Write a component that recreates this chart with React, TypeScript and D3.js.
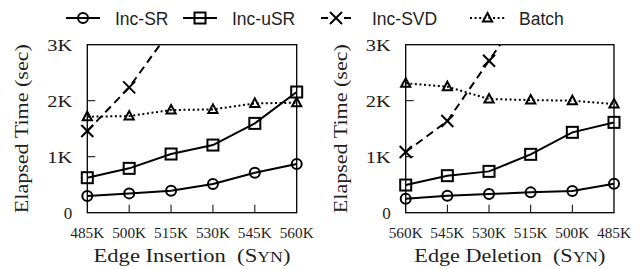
import React from 'react';
import * as d3 from 'd3';

// x categories
const insLabels = ['485K', '500K', '515K', '530K', '545K', '560K'];
const delLabels = ['560K', '545K', '530K', '515K', '500K', '485K'];

// elapsed time (sec), Edge Insertion
const insSR = [300, 345, 393, 512, 714, 869];
const insUSR = [625, 792, 1048, 1208, 1595, 2155];
const insSVD = [1458, 2238, 3270];
const insBatch = [1714, 1726, 1833, 1845, 1952, 1964];

// elapsed time (sec), Edge Deletion
const delSR = [250, 304, 333, 363, 387, 518];
const delUSR = [494, 661, 738, 1042, 1435, 1613];
const delSVD = [1083, 1637, 2714, 3800];
const delBatch = [2310, 2250, 2030, 2012, 2000, 1940];

const yTicks = [0, 1000, 2000, 3000];
const yTickLabels = ['0', '1K', '2K', '3K'];

const seriesNames = ['Inc-SR', 'Inc-uSR', 'Inc-SVD', 'Batch'];

const SERIF = '"Liberation Serif", "DejaVu Serif", serif';
const SANS = '"Liberation Sans", Arial, sans-serif';
const INK = '#1e1e1e';

type Shape = 'circle' | 'square' | 'cross' | 'triangle';
const shapes: Shape[] = ['circle', 'square', 'cross', 'triangle'];
const dashes = ['', '', '8 5', '2 2.6'];

const Marker = ({ shape, x, y }: { shape: Shape; x: number; y: number }) => {
  const common = { fill: 'none', stroke: '#000', strokeWidth: 2 };
  if (shape === 'circle') return <circle cx={x} cy={y} r={5} {...common} />;
  if (shape === 'square') return <rect x={x - 5.5} y={y - 5.5} width={11} height={11} {...common} />;
  if (shape === 'cross') {
    const s = 6;
    return (
      <g {...common}>
        <line x1={x - s} y1={y - s} x2={x + s} y2={y + s} />
        <line x1={x - s} y1={y + s} x2={x + s} y2={y - s} />
      </g>
    );
  }
  return <path d={`M${x},${y - 5}L${x + 4.6},${y + 3.5}L${x - 4.6},${y + 3.5}Z`} {...common} />;
};

const Panel = ({ id, left, right, labels, series, title, titleW }: {
  id: string; left: number; right: number; labels: string[]; series: number[][]; title: string; titleW: number;
}) => {
  const top = 44.7, bottom = 212.7;
  const x = d3.scalePoint<string>().domain(labels).range([left, right]).padding(0);
  const y = d3.scaleLinear().domain([0, 3000]).range([bottom, top]);
  const line = d3.line<number>().x((_, i) => x(labels[i])!).y(d => y(d));

  return (
    <g>
      <defs>
        <clipPath id={id}>
          <rect x={left} y={top} width={right - left} height={bottom - top} />
        </clipPath>
      </defs>
      {/* inward ticks */}
      {yTicks.slice(1, -1).map(t => (
        <line key={t} x1={left} x2={left + 8} y1={y(t)} y2={y(t)} stroke="#000" strokeWidth={1} />
      ))}
      {labels.slice(1, -1).map(l => (
        <line key={l} x1={x(l)} x2={x(l)} y1={bottom} y2={bottom - 8} stroke="#000" strokeWidth={1} />
      ))}
      <rect x={left} y={top} width={right - left} height={bottom - top} fill="none" stroke="#000" strokeWidth={1.3} />

      {yTicks.map((t, i) => (
        <text key={t} x={left - 15} y={y(t)} dy="0.35em" textAnchor="end" fontFamily={SERIF} fontSize={17}
          fill={INK} textLength={i === 0 ? undefined : 25} lengthAdjust="spacingAndGlyphs">{yTickLabels[i]}</text>
      ))}
      {labels.map(l => (
        <text key={l} x={x(l)} y={237.5} textAnchor="middle" fontFamily={SERIF} fontSize={14}
          fill={INK} textLength={34} lengthAdjust="spacingAndGlyphs">{l}</text>
      ))}

      <text transform={`translate(${left - 59},${(top + bottom) / 2}) rotate(-90)`} textAnchor="middle"
        fontFamily={SERIF} fontSize={19} fill={INK} textLength={169} lengthAdjust="spacingAndGlyphs">Elapsed Time (sec)</text>
      <text x={(left + right) / 2} y={262} textAnchor="middle" fontFamily={SERIF} fontSize={19} fill={INK}
        textLength={titleW} lengthAdjust="spacingAndGlyphs">
        {title}{'\u00a0\u00a0'}(S<tspan fontSize={15}>YN</tspan>)
      </text>

      <g clipPath={`url(#${id})`}>
        {series.map((s, k) => (
          <path key={k} d={line(s)!} fill="none" stroke="#000" strokeWidth={2}
            strokeDasharray={dashes[k] || undefined} />
        ))}
      </g>
      {series.map((s, k) => s.map((v, i) => v <= 3000 ? (
        <Marker key={`${k}-${i}`} shape={shapes[k]} x={x(labels[i])!} y={y(v)} />
      ) : null))}
    </g>
  );
};

const legendX = [66, 183, 321, 470];
const legendLen = [34, 34, 30, 35];
const legendTextX = [115, 232, 372, 519];
const legendDash = ['', '', '7 16 7', '2 2.6'];

export default function App() {
  return (
    <div style={{ position: 'absolute', left: 0, top: 0 }}>
      <svg width={642} height={269} style={{ display: 'block', background: '#fff' }}>
        {seriesNames.map((n, k) => (
          <g key={n}>
            <line x1={legendX[k]} x2={legendX[k] + legendLen[k]} y1={18} y2={18} stroke="#000" strokeWidth={2}
              strokeDasharray={legendDash[k] || undefined} />
            <Marker shape={shapes[k]} x={legendX[k] + legendLen[k] / 2} y={18} />
            <text x={legendTextX[k]} y={24.5} fontFamily={SANS} fontSize={17.5} fill={INK}>{n}</text>
          </g>
        ))}
        <Panel id="clipIns" left={87.3} right={296.7} labels={insLabels}
          series={[insSR, insUSR, insSVD, insBatch]} title="Edge Insertion" titleW={197} />
        <Panel id="clipDel" left={405.7} right={614} labels={delLabels}
          series={[delSR, delUSR, delSVD, delBatch]} title="Edge Deletion" titleW={191} />
      </svg>
    </div>
  );
}
